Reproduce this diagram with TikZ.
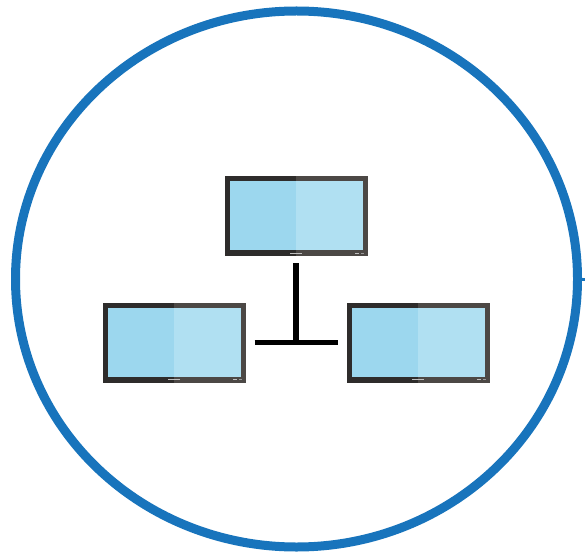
\documentclass[tikz,border=0pt]{standalone}
\usepackage{tikz}
\usetikzlibrary{positioning,calc,shapes.geometric}
\definecolor{ringblue}{HTML}{1874BC}
\definecolor{framedark}{HTML}{2E2C2B}
\definecolor{framelight}{HTML}{4C4845}
\definecolor{screenleft}{HTML}{9CD7EE}
\definecolor{screenright}{HTML}{B0E0F2}
\tikzset{
  ring/.style={ellipse, draw=ringblue, line width=9pt, minimum width=562pt, minimum height=536pt, inner sep=0pt},
  monitor/.style={rectangle, fill=framelight, minimum width=143pt, minimum height=80pt, inner sep=0pt, outer sep=0pt},
  bus/.style={line width=5.5pt, black}
}
\newcommand{\screen}[1]{
  \fill[framedark] (#1.north west) rectangle ($(#1.south)+(0,0)$);
  \fill[framelight] ($(#1.north west)+(71.5pt,0)$) rectangle (#1.south east);
  \fill[screenleft] ($(#1.north west)+(5pt,-5pt)$) rectangle ($(#1.north west)+(71.5pt,-74pt)$);
  \fill[screenright] ($(#1.north west)+(71.5pt,-5pt)$) rectangle ($(#1.north east)+(-5pt,-74pt)$);
  \fill[white!75!black] ($(#1.south)+(-6pt,2.2pt)$) rectangle ($(#1.south)+(6pt,3.4pt)$);
  \fill[white!75!black] ($(#1.south east)+(-13pt,2.2pt)$) rectangle ($(#1.south east)+(-9pt,3.4pt)$);
  \fill[white!60!black] ($(#1.south east)+(-7pt,2.2pt)$) rectangle ($(#1.south east)+(-4pt,3.4pt)$);
}
\begin{document}
\begin{tikzpicture}[x=1pt,y=-1pt]
\useasboundingbox (0,0) rectangle (585,553);
% outer ring
\node (outer) [ring] at (296.5,279) {};
\draw[ringblue, line width=3pt] (outer.east) -- ++(5pt,0) coordinate (tick);
% monitors
\node (topmon) [monitor] at (296,216) {};
\node (leftmon) [monitor] at (174,342.5) {};
\node (rightmon) [monitor] at (418,342.5) {};
\screen{topmon}
\screen{leftmon}
\screen{rightmon}
% links
\coordinate (junction) at (leftmon.east -| topmon.south);
\draw[bus, shorten <=9pt, shorten >=9pt] (leftmon.east) -- (rightmon.west);
\draw[bus, shorten <=7pt] (topmon.south) -- (junction);
\end{tikzpicture}
\end{document}
